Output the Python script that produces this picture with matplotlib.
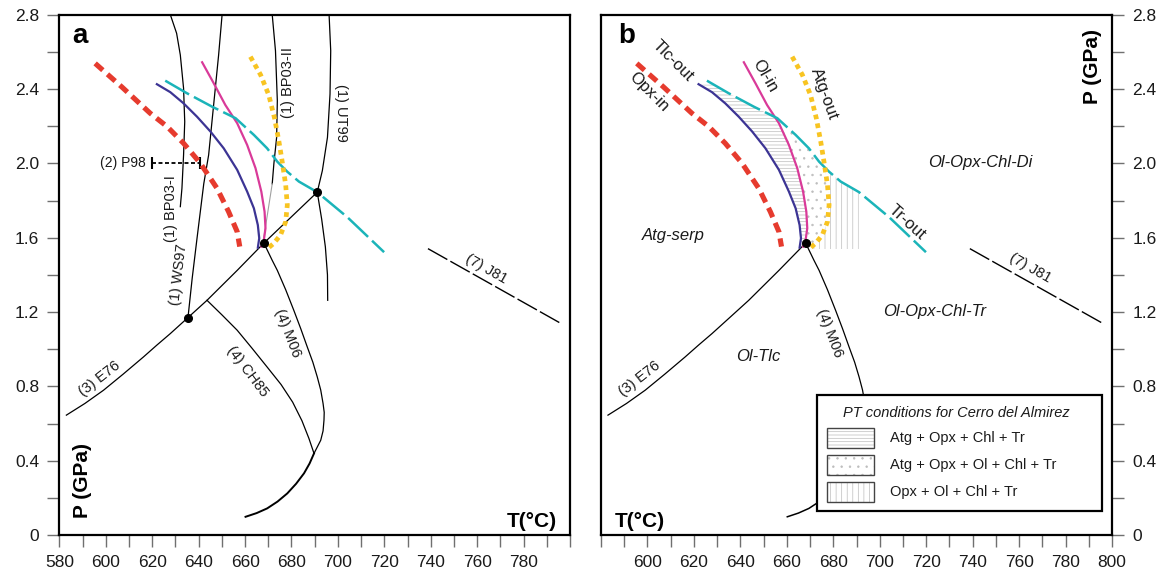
import numpy as np
import matplotlib
matplotlib.use("Agg")
import matplotlib.pyplot as plt
from matplotlib.patches import Rectangle
from matplotlib.ticker import FixedLocator, MultipleLocator

plt.rcParams['font.family'] = ['Liberation Sans', 'DejaVu Sans']
plt.rcParams['hatch.linewidth'] = 0.5

# ---------------- data (T in °C, P in GPa) ----------------
opx_in_T = [595.4, 607.0, 619.1, 626.4, 633.5, 640.7, 647.9, 652.9, 656.6, 657.7]
opx_in_P = [2.538, 2.410, 2.270, 2.198, 2.108, 2.001, 1.866, 1.740, 1.632, 1.552]

tlc_out_T = [622.0, 627.8, 633.5, 639.3, 645.1, 650.8, 656.6, 660.9, 663.8, 665.5, 666.1, 665.5]
tlc_out_P = [2.426, 2.383, 2.323, 2.251, 2.171, 2.081, 1.965, 1.848, 1.758, 1.668, 1.597, 1.546]

ol_in_T = [641.5, 646.5, 651.5, 656.6, 660.9, 664.5, 667.0, 668.4, 668.8, 668.1, 667.1]
ol_in_P = [2.544, 2.431, 2.314, 2.216, 2.099, 1.974, 1.848, 1.740, 1.651, 1.588, 1.552]

atg_out_T = [662.3, 666.7, 670.2, 672.7, 674.6, 676.0, 677.5, 678.2, 677.5, 675.3, 672.4, 669.5]
atg_out_P = [2.574, 2.476, 2.368, 2.243, 2.117, 2.009, 1.884, 1.776, 1.686, 1.615, 1.570, 1.539]

tr_out_T = [625.6, 635.0, 645.8, 655.9, 663.8, 669.5, 673.9, 678.2, 683.2, 691.1, 704.1, 719.9]
tr_out_P = [2.445, 2.377, 2.305, 2.243, 2.153, 2.081, 2.009, 1.955, 1.902, 1.845, 1.710, 1.522]

bp03i_T = [627.8, 630.5, 632.1, 633.5, 634.0, 633.5, 632.8, 632.1]
bp03i_P = [2.80, 2.70, 2.583, 2.404, 2.224, 2.045, 1.866, 1.767]

ws97_T = [650.1, 648.6, 646.5, 644.3, 642.2, 639.3, 637.2, 635.4]
ws97_P = [2.80, 2.583, 2.320, 2.045, 1.890, 1.597, 1.380, 1.170]

bp03ii_T = [671.7, 673.1, 673.9, 673.6, 672.4, 671.7]
bp03ii_P = [2.80, 2.606, 2.337, 2.140, 1.997, 1.890]
bp03ii_ext_T = [671.7, 668.1]
bp03ii_ext_P = [1.890, 1.603]

ut99_T = [696.2, 696.9, 696.6, 695.5, 693.3, 691.1, 693.0, 694.6, 695.5, 695.6]
ut99_P = [2.80, 2.606, 2.373, 2.140, 1.961, 1.845, 1.700, 1.550, 1.400, 1.263]

e76_T = [583.0, 591.0, 599.0, 607.5, 616.2, 622.0, 627.8, 635.4, 643.6, 656.6, 668.1, 691.1]
e76_P = [0.645, 0.708, 0.779, 0.866, 0.958, 1.022, 1.084, 1.170, 1.263, 1.424, 1.571, 1.845]

ch85_T = [643.6, 650.0, 656.6, 663.0, 669.5, 675.5, 680.5, 684.5, 687.5, 689.7]
ch85_P = [1.263, 1.185, 1.102, 1.005, 0.904, 0.810, 0.715, 0.615, 0.520, 0.439]

m06_T = [668.1, 671.7, 673.9, 677.5, 681.0, 684.0, 686.8, 689.2, 691.1, 692.6, 693.6, 694.1, 694.0, 693.6, 692.6, 689.7]
m06_P = [1.571, 1.478, 1.424, 1.320, 1.209, 1.110, 1.012, 0.930, 0.851, 0.780, 0.708, 0.660, 0.618, 0.560, 0.510, 0.439]
m06_low_T = [689.7, 687.8, 685.4, 682.0, 678.2, 674.0, 669.5, 665.0, 660.2]
m06_low_P = [0.439, 0.385, 0.332, 0.276, 0.224, 0.180, 0.143, 0.118, 0.098]

j81_T = [738.8, 796.3]
j81_P = [1.541, 1.137]

p98_T = [619.9, 640.7]
p98_P = [2.0, 2.0]

dots_a_T = [668.1, 691.1, 635.4]
dots_a_P = [1.571, 1.845, 1.170]
dots_b_T = [668.1]
dots_b_P = [1.571]

opx_ol_tr_Tmax = 691.0   # right edge of Opx+Ol+Chl+Tr field

t_ticks = [580, 600, 620, 640, 660, 680, 700, 720, 740, 760, 780, 800]
t_labels_a = ['580', '600', '620', '640', '660', '680', '700', '720', '740', '760', '780', '']
t_labels_b = ['', '600', '620', '640', '660', '680', '700', '720', '740', '760', '780', '800']
p_ticks = [0, 0.4, 0.8, 1.2, 1.6, 2.0, 2.4, 2.8]
p_labels = ['0', '0.4', '0.8', '1.2', '1.6', '2.0', '2.4', '2.8']

legend_title = 'PT conditions for Cerro del Almirez'
legend_labels = ['Atg + Opx + Chl + Tr', 'Atg + Opx + Ol + Chl + Tr', 'Opx + Ol + Chl + Tr']

# ---------------- styles ----------------
RED = '#e63b2e'
YEL = '#f8c421'
BLUE = '#3c3494'
MAG = '#d93a99'
CYAN = '#1bb4b9'
HATCH_C = '#bdbdbd'

fig = plt.figure(figsize=(11.64, 5.75), dpi=100)
axA = fig.add_axes([59.4 / 1164, 40 / 575, 510.6 / 1164, 520.3 / 575])
axB = fig.add_axes([601.0 / 1164, 40 / 575, 511.0 / 1164, 520.3 / 575])


def setup(ax, tlabels, right=False):
    ax.set_xlim(580, 800)
    ax.set_ylim(0, 2.8)
    for s in ax.spines.values():
        s.set_linewidth(1.6)
        s.set_color('black')
    ax.xaxis.set_major_locator(FixedLocator(t_ticks))
    ax.set_xticklabels(tlabels)
    ax.xaxis.set_minor_locator(MultipleLocator(10))
    ax.yaxis.set_major_locator(FixedLocator(p_ticks))
    ax.set_yticklabels(p_labels)
    ax.yaxis.set_minor_locator(MultipleLocator(0.2))
    if right:
        ax.yaxis.tick_right()
    ax.tick_params(which='both', direction='out', length=8.5, width=1.0,
                   color='#707070', labelsize=12.5, pad=6, labelcolor='#1a1a1a')


setup(axA, t_labels_a)
setup(axB, t_labels_b, right=True)


def T_of_P(Ts, Ps, p):
    Ts = np.asarray(Ts)
    Ps = np.asarray(Ps)
    o = np.argsort(Ps)
    return np.interp(p, Ps[o], Ts[o], left=np.nan, right=np.nan)


def colored_curves(ax):
    ax.plot(opx_in_T, opx_in_P, color=RED, lw=3.7, dashes=(2.0, 1.2),
            dash_capstyle='butt', zorder=5)
    ax.plot(tlc_out_T, tlc_out_P, color=BLUE, lw=1.6, zorder=5)
    ax.plot(ol_in_T, ol_in_P, color=MAG, lw=1.6, zorder=5)
    ax.plot(atg_out_T, atg_out_P, color=YEL, lw=3.4, dashes=(1.0, 0.9),
            dash_capstyle='butt', zorder=6)
    ax.plot(tr_out_T, tr_out_P, color=CYAN, lw=1.8, dashes=(11, 2.2),
            dash_capstyle='butt', zorder=5)


BLK = dict(color='black', lw=0.9, zorder=3)
LBL = dict(fontsize=10.5, ha='center', va='center', rotation_mode='anchor', color='#1a1a1a')

# ---------------- panel a ----------------
ax = axA
ax.plot(bp03i_T, bp03i_P, **BLK)
ax.plot(ws97_T, ws97_P, **BLK)
ax.plot(bp03ii_T, bp03ii_P, **BLK)
ax.plot(bp03ii_ext_T, bp03ii_ext_P, color='#a0a0a0', lw=0.8, zorder=3)
ax.plot(ut99_T, ut99_P, **BLK)
ax.plot(e76_T, e76_P, **BLK)
ax.plot(ch85_T, ch85_P, **BLK)
ax.plot(m06_T, m06_P, **BLK)
ax.plot(m06_low_T, m06_low_P, color='black', lw=1.4, zorder=3)
ax.plot(j81_T, j81_P, color='black', lw=1.0, dashes=(16, 2.5), zorder=3)
ax.plot(p98_T, p98_P, color='black', lw=1.3, dashes=(2.2, 1.4), zorder=3)
ax.plot(p98_T, p98_P, ls='none', marker='|', ms=9, mew=1.5, color='black', zorder=3)
colored_curves(ax)
ax.plot(dots_a_T, dots_a_P, ls='none', marker='o', ms=5.5, color='black', zorder=8)

ax.text(627.9, 1.757, '(1) BP03-I', rotation=90, **LBL)
ax.text(631.6, 1.40, '(1) WS97', rotation=83, **LBL)
ax.text(678.3, 2.434, '(1) BP03-II', rotation=90, **LBL)
ax.text(701.2, 2.273, '(1) UT99', rotation=-90, **LBL)
ax.text(597.5, 0.842, '(3) E76', rotation=38, **LBL)
ax.text(660.9, 0.878, '(4) CH85', rotation=-53, **LBL)
ax.text(678.4, 1.084, '(4) M06', rotation=-69, **LBL)
ax.text(763.8, 1.433, '(7) J81', rotation=-29.4, **LBL)
ax.text(617.0, 2.0, '(2) P98', fontsize=10, ha='right', va='center', color='#1a1a1a')

ax.text(0.026, 0.945, 'a', transform=ax.transAxes, fontsize=20, fontweight='bold',
        ha='left', va='baseline')
ax.text(0.974, 0.016, 'T(°C)', transform=ax.transAxes, fontsize=15, fontweight='bold',
        ha='right', va='baseline')
ax.text(0.045, 0.104, 'P (GPa)', transform=ax.transAxes, fontsize=15, fontweight='bold',
        ha='center', va='center', rotation=90)

# ---------------- panel b ----------------
ax = axB
Pg = np.linspace(1.53, 2.45, 400)
tlc_g = T_of_P(tlc_out_T, tlc_out_P, Pg)
ol_g = T_of_P(ol_in_T, ol_in_P, Pg)
atg_g = T_of_P(atg_out_T, atg_out_P, Pg)
tr_g = T_of_P(tr_out_T, tr_out_P, Pg)

regions = [
    (tlc_g, np.minimum(ol_g, tr_g), '-----'),
    (ol_g, np.minimum(atg_g, tr_g), '..'),
    (atg_g, np.minimum(tr_g, opx_ol_tr_Tmax), '|||'),
]
for left, rightb, h in regions:
    ok = np.isfinite(left) & np.isfinite(rightb) & (rightb > left)
    ax.fill_betweenx(Pg, np.where(ok, left, np.nan), np.where(ok, rightb, np.nan),
                     where=ok, facecolor='none', edgecolor=HATCH_C, hatch=h,
                     linewidth=0, zorder=1)

ax.plot(e76_T[:11], e76_P[:11], **BLK)
ax.plot(m06_T, m06_P, **BLK)
ax.plot(m06_low_T, m06_low_P, color='black', lw=1.1, zorder=3)
ax.plot(j81_T, j81_P, color='black', lw=1.0, dashes=(16, 2.5), zorder=3)
colored_curves(ax)
ax.plot(dots_b_T, dots_b_P, ls='none', marker='o', ms=5.5, color='black', zorder=8)

CL = dict(fontsize=12, ha='center', va='center', rotation_mode='anchor', color='#1a1a1a')
ax.text(600.4, 2.383, 'Opx-in', rotation=-45, **CL)
ax.text(611.1, 2.550, 'Tlc-out', rotation=-45, **CL)
ax.text(650.6, 2.473, 'Ol-in', rotation=-60, **CL)
ax.text(676.0, 2.375, 'Atg-out', rotation=-70, **CL)
ax.text(711.7, 1.684, 'Tr-out', rotation=-42, **CL)

IT = dict(fontsize=12, style='italic', ha='center', va='center', color='#1a1a1a')
ax.text(611.1, 1.612, 'Atg-serp', **IT)
ax.text(743.5, 2.004, 'Ol-Opx-Chl-Di', **IT)
ax.text(723.8, 1.204, 'Ol-Opx-Chl-Tr', **IT)
ax.text(647.7, 0.962, 'Ol-Tlc', **IT)

ax.text(596.8, 0.842, '(3) E76', rotation=38, **LBL)
ax.text(678.6, 1.084, '(4) M06', rotation=-69, **LBL)
ax.text(764.8, 1.435, '(7) J81', rotation=-29.4, **LBL)

ax.text(0.034, 0.945, 'b', transform=ax.transAxes, fontsize=20, fontweight='bold',
        ha='left', va='baseline')
ax.text(0.027, 0.016, 'T(°C)', transform=ax.transAxes, fontsize=15, fontweight='bold',
        ha='left', va='baseline')
ax.text(0.962, 0.900, 'P (GPa)', transform=ax.transAxes, fontsize=15, fontweight='bold',
        ha='center', va='center', rotation=90)

# legend box (manual)
tr = ax.transAxes
ax.add_patch(Rectangle((0.423, 0.046), 0.558, 0.223, transform=tr, facecolor='white',
                       edgecolor='black', lw=1.6, zorder=10))
ax.text(0.696, 0.234, legend_title, transform=tr, fontsize=10.5, style='italic',
        ha='center', va='center', zorder=11, color='#1a1a1a')
row_y = [0.186, 0.135, 0.083]
hatches = ['-----', '..', '|||']
for yv, lab, h in zip(row_y, legend_labels, hatches):
    ax.add_patch(Rectangle((0.4417, yv - 0.0192), 0.093, 0.0384, transform=tr,
                           facecolor='white', edgecolor=HATCH_C, hatch=h, lw=0, zorder=11))
    ax.add_patch(Rectangle((0.4417, yv - 0.0192), 0.093, 0.0384, transform=tr,
                           facecolor='none', edgecolor='#444444', lw=1.0, zorder=12))
    ax.text(0.5656, yv, lab, transform=tr, fontsize=10.5, ha='left', va='center',
            zorder=12, color='#1a1a1a')

fig.savefig('out.png', dpi=100)
